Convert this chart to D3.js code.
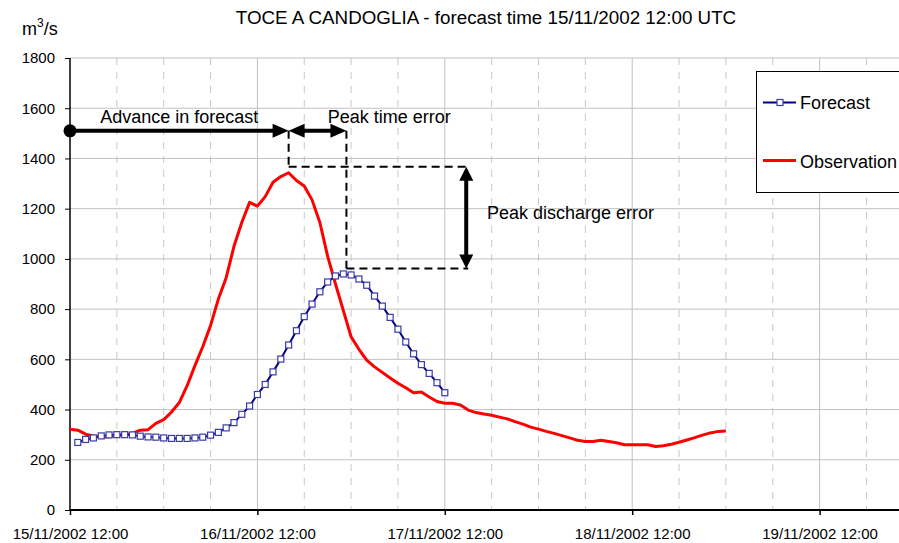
<!DOCTYPE html>
<html lang="en">
<head>
<meta charset="UTF-8">
<title>TOCE A CANDOGLIA</title>
<style>
  body { margin: 0; background: #fff; }
  text { font-family: Arial, "Liberation Sans", sans-serif; fill: #000; }
</style>
</head>
<body>
<script src="https://cdn.jsdelivr.net/npm/d3@7"></script>
<script>
  // forecast issued 15/11/2002 12:00 UTC, hourly values
  const startTime = Date.UTC(2002, 10, 15, 12);
  const HOUR = 3600 * 1000;

  // observation, hours 0..84 after forecast time
  const observed = [
    322, 318, 302, 295, 291, 292, 297, 300, 305, 318,
    320, 345, 360, 390, 428, 495, 575, 650, 735, 840,
    925, 1050, 1145, 1225, 1210, 1248, 1305, 1328, 1343, 1312,
    1290, 1235, 1145, 1010, 900, 795, 690, 640, 597, 570,
    548, 526, 505, 487, 467, 470, 450, 432, 425, 425,
    418, 398, 388, 382, 377, 370, 363, 352, 342, 330,
    322, 313, 305, 296, 287, 278, 273, 273, 278, 273,
    268, 260, 260, 260, 260, 253, 256, 262, 270, 279,
    288, 298, 307, 313, 315
  ];

  // forecast, hours 1..48 after forecast time
  const forecast = [
    269, 281, 287, 295, 299, 300, 300, 299, 294, 291,
    290, 287, 285, 285, 285, 287, 290, 298, 309, 327,
    348, 381, 414, 460, 500, 550, 601, 657, 714, 770,
    820, 869, 908, 932, 940, 936, 920, 895, 852, 812,
    767, 720, 669, 622, 579, 544, 507, 467
  ];

  const yTicks = [0, 200, 400, 600, 800, 1000, 1200, 1400, 1600, 1800];
  const dayTickHours = [0, 24, 48, 72, 96];
  const seriesNames = ['Forecast', 'Observation'];

  // annotation anchors (hours after forecast time, discharge)
  const obsPeakHour = 28;
  const fcstPeakHour = 35.4;
  const errorArrowHour = 51;
  const arrowLevel = 1510;
  const obsPeakLevel = 1367;
  const fcstPeakLevel = 962;

  const w = 899, h = 543;
  const padLeft = 70, padTop = 58, padBottom = 510;
  const dayPx = 187.4;
  const FONT = 'Arial, "Liberation Sans", sans-serif';

  const svg = d3.select('body').append('svg')
    .attr('width', w).attr('height', h);

  const x = d3.scaleUtc()
    .domain([new Date(startTime), new Date(startTime + 108 * HOUR)])
    .range([padLeft, padLeft + 4.5 * dayPx]);
  const y = d3.scaleLinear().domain([0, 1800]).range([padBottom, padTop]);
  const xh = (hr) => x(new Date(startTime + hr * HOUR));

  // grid
  const sixHours = d3.range(0, 109, 6);
  svg.append('g').selectAll('line')
    .data(sixHours.filter(d => d % 24 !== 0))
    .enter().append('line')
    .attr('x1', d => xh(d)).attr('x2', d => xh(d))
    .attr('y1', padTop).attr('y2', padBottom)
    .attr('stroke', '#c8c8c8').attr('stroke-width', 1)
    .attr('stroke-dasharray', '7,7');
  svg.append('g').selectAll('line')
    .data(sixHours.filter(d => d % 24 === 0 && d > 0))
    .enter().append('line')
    .attr('x1', d => xh(d)).attr('x2', d => xh(d))
    .attr('y1', padTop).attr('y2', padBottom)
    .attr('stroke', '#c0c0c0').attr('stroke-width', 1);
  svg.append('g').selectAll('line')
    .data(yTicks.filter(d => d > 0))
    .enter().append('line')
    .attr('x1', padLeft).attr('x2', w)
    .attr('y1', d => y(d)).attr('y2', d => y(d))
    .attr('stroke', '#c0c0c0').attr('stroke-width', 1);

  // axes
  const yAxis = svg.append('g')
    .attr('transform', `translate(${padLeft},0)`)
    .call(d3.axisLeft(y).tickValues(yTicks).tickSize(5).tickPadding(10).tickFormat(d3.format('d')));
  yAxis.select('.domain').attr('stroke', '#000').attr('stroke-width', 1.5)
    .attr('d', `M0,${padTop}V${padBottom}`);
  yAxis.selectAll('.tick line').attr('stroke', '#000');
  yAxis.selectAll('text').attr('font-size', 15).attr('font-family', FONT);

  const dayTicks = dayTickHours.map(d => new Date(startTime + d * HOUR));
  const xAxis = svg.append('g')
    .attr('transform', `translate(0,${padBottom})`)
    .call(d3.axisBottom(x).tickValues(dayTicks).tickSize(5).tickPadding(13)
      .tickFormat(d3.utcFormat('%d/%m/%Y %H:%M')));
  xAxis.select('.domain').attr('stroke', '#000').attr('stroke-width', 2)
    .attr('d', `M${padLeft},0H${w}`);
  xAxis.selectAll('.tick line').attr('stroke', '#000').attr('stroke-width', 1.5);
  xAxis.selectAll('text').attr('font-size', 15).attr('font-family', FONT);

  // series
  const line = d3.line().x(d => xh(d[0])).y(d => y(d[1]));
  const obsData = observed.map((v, i) => [i, v]);
  const fcData = forecast.map((v, i) => [i + 1, v]);

  svg.append('path').datum(obsData)
    .attr('d', line).attr('fill', 'none')
    .attr('stroke', '#ff0000').attr('stroke-width', 3).attr('stroke-linejoin', 'round');

  svg.append('path').datum(fcData)
    .attr('d', line).attr('fill', 'none')
    .attr('stroke', '#000080').attr('stroke-width', 2);
  svg.append('g').selectAll('rect')
    .data(fcData).enter().append('rect')
    .attr('x', d => xh(d[0]) - 3).attr('y', d => y(d[1]) - 3)
    .attr('width', 6).attr('height', 6)
    .attr('fill', '#fff').attr('stroke', '#3a3aa8').attr('stroke-width', 1.2);

  // annotations
  const ann = svg.append('g');
  const headH = (xTip, yy, dir) => {
    const l = 16, hw = 7;
    return `M${xTip},${yy}L${xTip - dir * l},${yy - hw}L${xTip - dir * l},${yy + hw}Z`;
  };
  const headV = (xx, yTip, dir) => {
    const l = 14, hw = 7;
    return `M${xx},${yTip}L${xx - hw},${yTip - dir * l}L${xx + hw},${yTip - dir * l}Z`;
  };
  const ay = y(arrowLevel);

  const dash = (x1, y1, x2, y2) => ann.append('line')
    .attr('x1', x1).attr('y1', y1).attr('x2', x2).attr('y2', y2)
    .attr('stroke', '#000').attr('stroke-width', 2).attr('stroke-dasharray', '8,5');
  dash(xh(obsPeakHour), ay, xh(obsPeakHour), y(obsPeakLevel));
  dash(xh(obsPeakHour), y(obsPeakLevel), xh(errorArrowHour), y(obsPeakLevel));
  dash(xh(fcstPeakHour), ay, xh(fcstPeakHour), y(fcstPeakLevel));
  dash(xh(fcstPeakHour), y(fcstPeakLevel), xh(errorArrowHour), y(fcstPeakLevel));

  const solid = (x1, y1, x2, y2) => ann.append('line')
    .attr('x1', x1).attr('y1', y1).attr('x2', x2).attr('y2', y2)
    .attr('stroke', '#000').attr('stroke-width', 4);
  solid(xh(0), ay, xh(obsPeakHour) - 10, ay);
  ann.append('path').attr('d', headH(xh(obsPeakHour), ay, 1));
  ann.append('circle').attr('cx', xh(0)).attr('cy', ay).attr('r', 6.5);

  solid(xh(obsPeakHour) + 10, ay, xh(fcstPeakHour) - 10, ay);
  ann.append('path').attr('d', headH(xh(obsPeakHour), ay, -1));
  ann.append('path').attr('d', headH(xh(fcstPeakHour), ay, 1));

  const ex = xh(errorArrowHour) - 2;
  solid(ex, y(obsPeakLevel) + 8, ex, y(fcstPeakLevel) - 8);
  ann.append('path').attr('d', headV(ex, y(obsPeakLevel), -1));
  ann.append('path').attr('d', headV(ex, y(fcstPeakLevel), 1));

  ann.append('text').attr('x', (xh(0) + xh(obsPeakHour)) / 2).attr('y', ay - 8)
    .attr('text-anchor', 'middle').attr('font-size', 18).text('Advance in forecast');
  ann.append('text').attr('x', xh(33)).attr('y', ay - 8)
    .attr('font-size', 18).text('Peak time error');
  ann.append('text').attr('x', xh(53.4)).attr('y', y(1160))
    .attr('font-size', 18).text('Peak discharge error');

  // legend
  const lg = svg.append('g');
  lg.append('rect').attr('x', 756.5).attr('y', 71.5).attr('width', 160).attr('height', 121)
    .attr('fill', '#fff').attr('stroke', '#000').attr('stroke-width', 1);
  lg.append('line').attr('x1', 763).attr('x2', 796).attr('y1', 102.5).attr('y2', 102.5)
    .attr('stroke', '#000080').attr('stroke-width', 2);
  lg.append('rect').attr('x', 777).attr('y', 99.5).attr('width', 6).attr('height', 6)
    .attr('fill', '#fff').attr('stroke', '#3a3aa8').attr('stroke-width', 1.2);
  lg.append('line').attr('x1', 763).attr('x2', 796).attr('y1', 160.5).attr('y2', 160.5)
    .attr('stroke', '#ff0000').attr('stroke-width', 3);
  lg.append('text').attr('x', 800).attr('y', 108.5).attr('font-size', 18).text(seriesNames[0]);
  lg.append('text').attr('x', 800).attr('y', 167.5).attr('font-size', 18).text(seriesNames[1]);

  // titles
  svg.append('text').attr('x', 486).attr('y', 24).attr('text-anchor', 'middle')
    .attr('font-size', 18.8).text('TOCE A CANDOGLIA - forecast time 15/11/2002 12:00 UTC');
  const unit = svg.append('text').attr('x', 22).attr('y', 35).attr('font-size', 18);
  unit.append('tspan').text('m');
  unit.append('tspan').attr('font-size', 12).attr('dy', -8).text('3');
  unit.append('tspan').attr('dy', 8).text('/s');
</script>
</body>
</html>
